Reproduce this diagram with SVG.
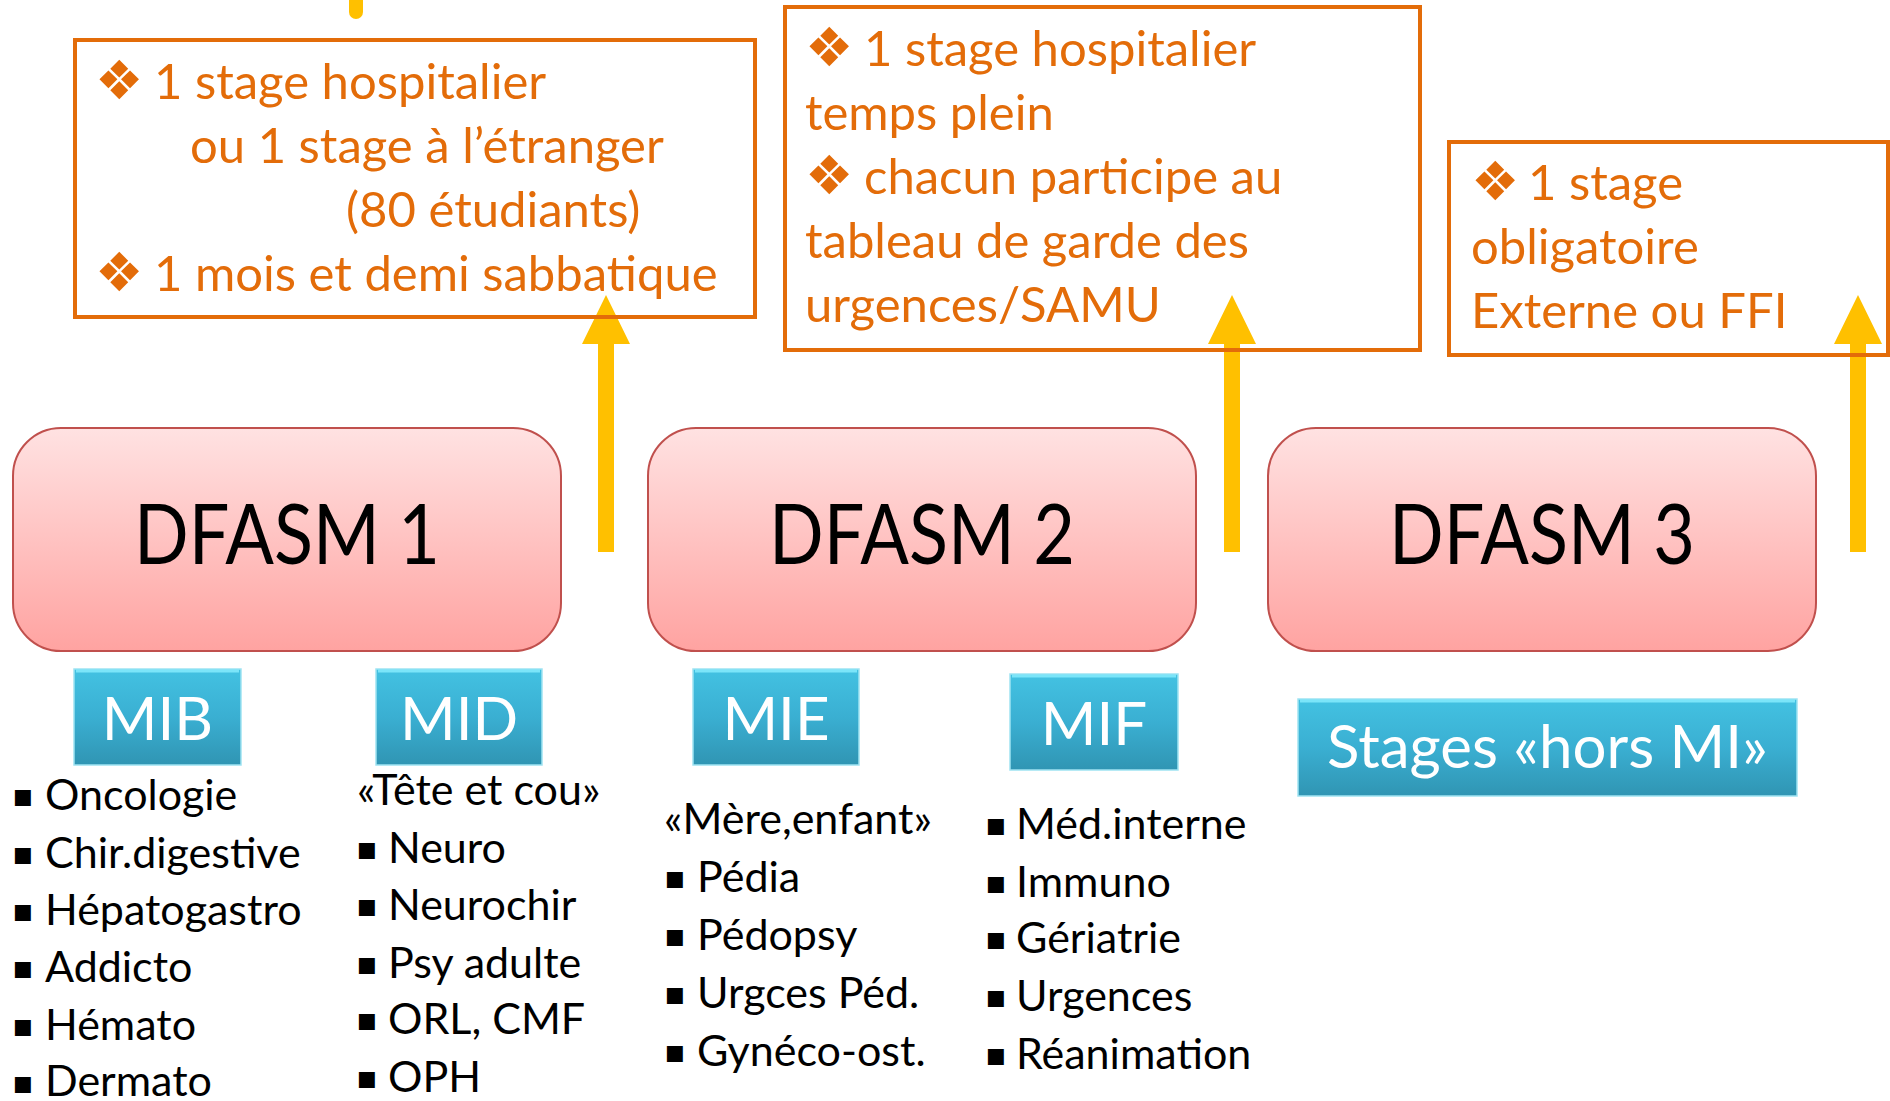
<svg xmlns="http://www.w3.org/2000/svg" width="1890" height="1101" viewBox="0 0 1890 1101">
<defs>
<linearGradient id="pink" x1="0" y1="0" x2="0" y2="1">
<stop offset="0" stop-color="#FFE2E2"/>
<stop offset="1" stop-color="#FFA3A1"/>
</linearGradient>
<linearGradient id="teal" x1="0" y1="0" x2="0" y2="1">
<stop offset="0" stop-color="#43C2E2"/>
<stop offset="0.5" stop-color="#3AAFD2"/>
<stop offset="1" stop-color="#3095B3"/>
</linearGradient>
<style>
.note{fill:none;stroke:#E36C09;stroke-width:4}
.ot{font-family:Lato,"Liberation Sans",sans-serif;font-size:49px;fill:#E36C09}
.dia{font-family:"DejaVu Sans",sans-serif;font-size:54px;fill:#E36C09}
.dfasm{fill:url(#pink);stroke:#C0504D;stroke-width:2}
.dt{font-family:Lato,"Liberation Sans",sans-serif;font-size:84px;fill:#000;text-anchor:middle}
.mi{fill:url(#teal);stroke:#9FE3F2;stroke-width:1.5}
.bev{fill:none;stroke:#8AEEFF;stroke-width:3;opacity:0.8}
.mt{font-family:Lato,"Liberation Sans",sans-serif;font-size:60px;fill:#fff;text-anchor:middle}
.lt{font-family:Lato,"Liberation Sans",sans-serif;font-size:43px;fill:#000}
.sq{font-family:"DejaVu Sans",sans-serif;font-size:32px;fill:#000}
.arr{fill:#FFC000}
</style>
</defs>
<rect width="1890" height="1101" fill="#fff"/>

<g id="connectors">
<path class="arr" d="M349,0 H363 V12 A7,7 0 0 1 349,12 Z"/>
<path class="arr" d="M598,552 V344 H582 L606,295 L630,344 H614 V552 Z"/>
<path class="arr" d="M1224,552 V344 H1208 L1232,295 L1256,344 H1240 V552 Z"/>
<path class="arr" d="M1850,552 V344 H1834 L1858,295 L1882,344 H1866 V552 Z"/>
</g>

<g id="note1">
<rect class="note" x="75" y="40" width="680" height="277"/>
<text class="dia" x="95" y="99">❖</text>
<text class="ot" x="154" y="99">1 stage hospitalier</text>
<text class="ot" x="190" y="163">ou 1 stage à l’étranger</text>
<text class="ot" x="346" y="227">(80 étudiants)</text>
<text class="dia" x="95" y="291">❖</text>
<text class="ot" x="154" y="291">1 mois et demi sabbatique</text>
</g>

<g id="note2">
<rect class="note" x="785" y="7" width="635" height="343"/>
<text class="dia" x="805" y="66">❖</text>
<text class="ot" x="864" y="66">1 stage hospitalier</text>
<text class="ot" x="805" y="130">temps plein</text>
<text class="dia" x="805" y="194">❖</text>
<text class="ot" x="864" y="194">chacun participe au</text>
<text class="ot" x="805" y="258">tableau de garde des</text>
<text class="ot" x="805" y="322">urgences/SAMU</text>
</g>

<g id="note3">
<rect class="note" x="1449" y="142" width="439" height="213"/>
<text class="dia" x="1471" y="200">❖</text>
<text class="ot" x="1528" y="200">1 stage</text>
<text class="ot" x="1471" y="264">obligatoire</text>
<text class="ot" x="1471" y="328">Externe ou FFI</text>
</g>

<g id="dfasm1">
<rect class="dfasm" x="13" y="428" width="548" height="223" rx="48"/>
<text class="dt" x="287" y="564" textLength="306" lengthAdjust="spacingAndGlyphs">DFASM 1</text>
</g>
<g id="dfasm2">
<rect class="dfasm" x="648" y="428" width="548" height="223" rx="48"/>
<text class="dt" x="922" y="564" textLength="306" lengthAdjust="spacingAndGlyphs">DFASM 2</text>
</g>
<g id="dfasm3">
<rect class="dfasm" x="1268" y="428" width="548" height="223" rx="48"/>
<text class="dt" x="1542" y="564" textLength="306" lengthAdjust="spacingAndGlyphs">DFASM 3</text>
</g>

<g id="mib">
<rect class="mi" x="74" y="669" width="167" height="96"/>
<path class="bev" d="M76,671 H239"/>
<text class="mt" x="157.5" y="740">MIB</text>
</g>
<g id="mid">
<rect class="mi" x="376" y="669" width="166" height="96"/>
<path class="bev" d="M378,671 H540"/>
<text class="mt" x="459" y="740">MID</text>
</g>
<g id="mie">
<rect class="mi" x="693" y="669" width="166" height="96"/>
<path class="bev" d="M695,671 H857"/>
<text class="mt" x="776" y="740">MIE</text>
</g>
<g id="mif">
<rect class="mi" x="1010" y="674" width="168" height="96"/>
<path class="bev" d="M1012,676 H1176"/>
<text class="mt" x="1094" y="745">MIF</text>
</g>
<g id="hors">
<rect class="mi" x="1298" y="699" width="499" height="97"/>
<path class="bev" d="M1300,701 H1795"/>
<text class="mt" x="1547.5" y="768">Stages «hors MI»</text>
</g>

<g id="list-mib">
<text class="sq" x="12" y="806">▪</text><text class="lt" x="45" y="810">Oncologie</text>
<text class="sq" x="12" y="864">▪</text><text class="lt" x="45" y="868">Chir.digestive</text>
<text class="sq" x="12" y="921">▪</text><text class="lt" x="45" y="925">Hépatogastro</text>
<text class="sq" x="12" y="978">▪</text><text class="lt" x="45" y="982">Addicto</text>
<text class="sq" x="12" y="1036">▪</text><text class="lt" x="45" y="1040">Hémato</text>
<text class="sq" x="12" y="1093">▪</text><text class="lt" x="45" y="1096">Dermato</text>
</g>
<g id="list-mid">
<text class="lt" x="357" y="805">«Tête et cou»</text>
<text class="sq" x="356" y="859">▪</text><text class="lt" x="388" y="863">Neuro</text>
<text class="sq" x="356" y="916">▪</text><text class="lt" x="388" y="920">Neurochir</text>
<text class="sq" x="356" y="974">▪</text><text class="lt" x="388" y="978">Psy adulte</text>
<text class="sq" x="356" y="1030">▪</text><text class="lt" x="388" y="1034">ORL, CMF</text>
<text class="sq" x="356" y="1088">▪</text><text class="lt" x="388" y="1092">OPH</text>
</g>
<g id="list-mie">
<text class="lt" x="664" y="834">«Mère,enfant»</text>
<text class="sq" x="664" y="888">▪</text><text class="lt" x="697" y="892">Pédia</text>
<text class="sq" x="664" y="946">▪</text><text class="lt" x="697" y="950">Pédopsy</text>
<text class="sq" x="664" y="1004">▪</text><text class="lt" x="697" y="1008">Urgces Péd.</text>
<text class="sq" x="664" y="1062">▪</text><text class="lt" x="697" y="1066">Gynéco-ost.</text>
</g>
<g id="list-mif">
<text class="sq" x="985" y="835">▪</text><text class="lt" x="1016" y="839">Méd.interne</text>
<text class="sq" x="985" y="893">▪</text><text class="lt" x="1016" y="897">Immuno</text>
<text class="sq" x="985" y="949">▪</text><text class="lt" x="1016" y="953">Gériatrie</text>
<text class="sq" x="985" y="1007">▪</text><text class="lt" x="1016" y="1011">Urgences</text>
<text class="sq" x="985" y="1065">▪</text><text class="lt" x="1016" y="1069">Réanimation</text>
</g>
</svg>
